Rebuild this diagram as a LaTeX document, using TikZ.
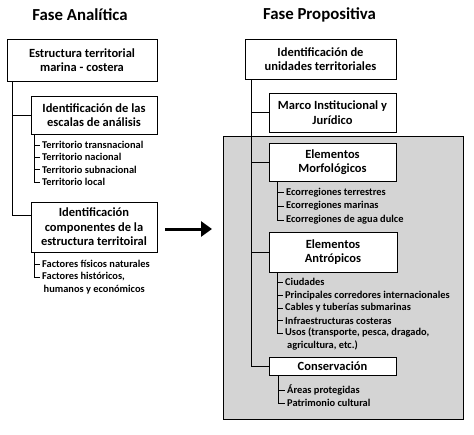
\documentclass[tikz,border=0pt]{standalone}
\usepackage{fontspec}
\setmainfont{Carlito}
\usetikzlibrary{arrows.meta}
\definecolor{panelgray}{RGB}{212,212,212}
\begin{document}
\begin{tikzpicture}[x=1pt,y=-1pt,
  box/.style={draw, line width=1pt, fill=white, align=center,
    font=\bfseries\fontsize{12.5}{14.5}\selectfont, inner sep=0pt},
  item/.style={anchor=west, inner xsep=2pt, inner ysep=0pt,
    font=\bfseries\fontsize{10.4}{12}\selectfont},
  heading/.style={font=\bfseries\fontsize{16.8}{20}\selectfont},
  conn/.style={line width=1pt},
  bigarrow/.style={line width=3pt, -{Triangle[length=11pt,width=15pt]}}]
\useasboundingbox (0,0) rectangle (474,434);
% titles
\node[heading] (t1) at (80,15) {Fase Analítica};
\node[heading] (t2) at (319.5,15) {Fase Propositiva};
% gray panel
\node[draw, line width=1pt, fill=panelgray, anchor=north west,
  minimum width=240pt, minimum height=283pt, inner sep=0pt] (panel) at (223,136) {};
% left boxes
\node[box, minimum width=150pt, minimum height=42pt] (b1) at (82,60) {Estructura territorial\\marina - costera};
\node[box, minimum width=126pt, minimum height=38pt] (b2) at (94,115) {Identificación de las\\escalas de análisis};
\node[box, minimum width=126pt, minimum height=50pt] (b3) at (94,227) {Identificación\\componentes de la\\estructura territoiral};
% right boxes
\node[box, minimum width=151pt, minimum height=40pt] (ba) at (320.5,59) {Identificación de\\unidades territoriales};
\node[box, minimum width=127pt, minimum height=39pt] (bb) at (332.5,112.5) {Marco Institucional y\\Jurídico};
\node[box, minimum width=127pt, minimum height=38pt] (bc) at (332.5,162) {Elementos\\Morfológicos};
\node[box, minimum width=128pt, minimum height=40pt] (bd) at (333,252) {Elementos\\Antrópicos};
\node[box, minimum width=127pt, minimum height=18pt] (be) at (332.5,366) {Conservación};
% left trunk
\coordinate (lt) at ([xshift=6pt]b1.south west);
\draw[conn] (lt) |- (b2.west);
\draw[conn] (lt) |- ([yshift=12pt]b3.west);
% right trunk
\coordinate (rt) at ([xshift=7pt]ba.south west);
\draw[conn] (rt) |- (bb.west);
\draw[conn] (rt) |- (bc.west);
\draw[conn] (rt) |- (bd.west);
\draw[conn] (rt) |- (be.west);
% list under b2
\coordinate (l1) at ([xshift=4pt]b2.south west);
\node[item] (i11) at (40,145) {Territorio transnacional};
\node[item] (i12) at (40,157) {Territorio nacional};
\node[item] (i13) at (40,169.5) {Territorio subnacional};
\node[item] (i14) at (40,182) {Territorio local};
\foreach \n in {i11,i12,i13,i14} \draw[conn] (l1) |- (\n.west);
% list under b3
\coordinate (l2) at ([xshift=4pt]b3.south west);
\node[item] (i21) at (40,264) {Factores físicos naturales};
\node[item] (i22) at (40,277) {Factores históricos,};
\node[item] (i23) at (41.5,289.5) {humanos y económicos};
\foreach \n in {i21,i22} \draw[conn] (l2) |- (\n.west);
% list under bc
\coordinate (r1) at ([xshift=9pt]bc.south west);
\node[item] (c1) at (284,192.5) {Ecorregiones terrestres};
\node[item] (c2) at (284,206) {Ecorregiones marinas};
\node[item] (c3) at (284,220) {Ecorregiones de agua dulce};
\foreach \n in {c1,c2,c3} \draw[conn] (r1) |- (\n.west);
% list under bd
\coordinate (r2) at ([xshift=9pt]bd.south west);
\node[item] (d1) at (283,282) {Ciudades};
\node[item] (d2) at (283,295.5) {Principales corredores internacionales};
\node[item] (d3) at (283,308) {Cables y tuberías submarinas};
\node[item] (d4) at (283,320.5) {Infraestructuras costeras};
\node[item] (d5) at (283,333) {Usos (transporte, pesca, dragado,};
\node[item] (d6) at (285,345.5) {agricultura, etc.)};
\foreach \n in {d1,d2,d3,d4,d5} \draw[conn] (r2) |- (\n.west);
% list under be
\coordinate (r3) at ([xshift=10pt]be.south west);
\node[item] (e1) at (285,390) {Áreas protegidas};
\node[item] (e2) at (285,403) {Patrimonio cultural};
\foreach \n in {e1,e2} \draw[conn] (r3) |- (\n.west);
% arrow
\coordinate (a1) at (165,229);
\coordinate (a2) at (212,229);
\draw[bigarrow] (a1) -- (a2);
\end{tikzpicture}
\end{document}
